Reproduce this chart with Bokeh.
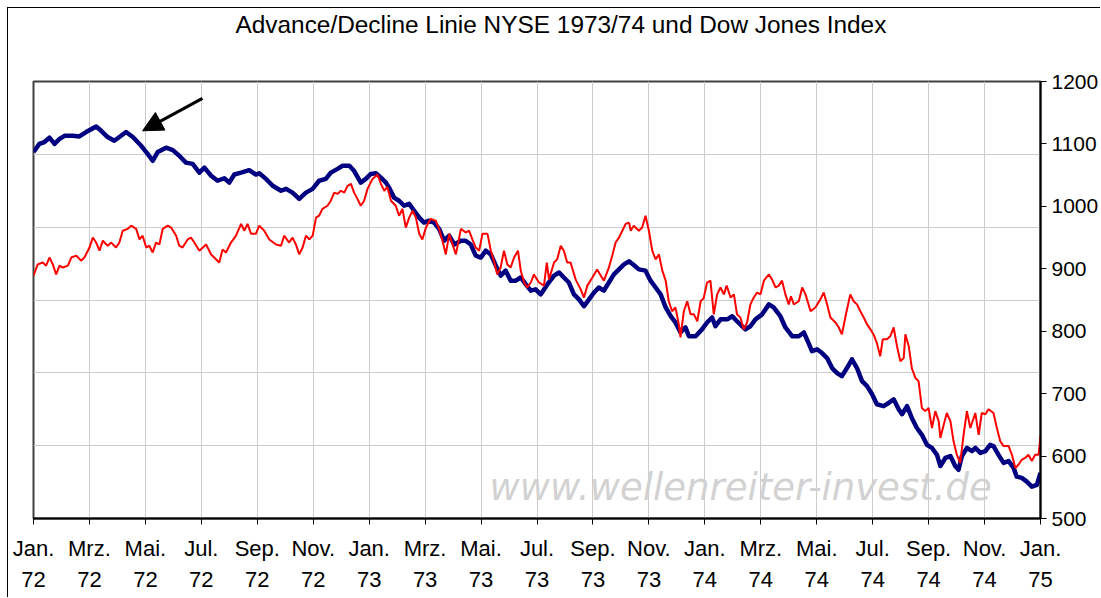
from bokeh.plotting import figure
from bokeh.models import Range1d, LinearAxis, FixedTicker, Arrow, NormalHead, Label, Title
from bokeh.embed import file_html
from bokeh.resources import INLINE

# ---- data (months since Jan 1972) ----
t_ad = [0.00, 0.21, 0.39, 0.57, 0.75, 0.93, 1.11, 1.40, 1.64, 1.88, 2.24, 2.42, 2.65, 2.89, 3.13, 3.31, 3.55,
        3.85, 4.08, 4.26, 4.44, 4.74, 4.98, 5.21, 5.45, 5.69, 5.93, 6.11, 6.35, 6.58, 6.82, 7.00, 7.18, 7.42,
        7.71, 7.95, 8.07, 8.31, 8.55, 8.85, 9.03, 9.26, 9.50, 9.74, 9.98, 10.21, 10.45, 10.63, 10.87, 11.05,
        11.29, 11.46, 11.70, 11.88, 12.06, 12.24, 12.42, 12.60, 12.71, 12.89, 13.07, 13.25, 13.43, 13.61,
        13.79, 13.96, 14.14, 14.32, 14.50, 14.68, 14.86, 15.04, 15.28, 15.45, 15.63, 15.81, 15.99, 16.17,
        16.35, 16.53, 16.70, 16.88, 17.06, 17.24, 17.42, 17.60, 17.78, 17.95, 18.13, 18.37, 18.61, 18.79,
        18.96, 19.14, 19.32, 19.50, 19.68, 19.86, 20.04, 20.21, 20.39, 20.57, 20.75, 20.93, 21.11, 21.29,
        21.46, 21.64, 21.88, 22.06, 22.24, 22.42, 22.60, 22.78, 22.95, 23.13, 23.31, 23.43, 23.67, 23.90,
        24.08, 24.26, 24.38, 24.56, 24.80, 24.98, 25.15, 25.33, 25.45, 25.63, 25.81, 26.05, 26.29, 26.46,
        26.70, 26.88, 27.12, 27.36, 27.54, 27.71, 27.83, 28.01, 28.19, 28.37, 28.55, 28.73, 28.90, 29.08,
        29.26, 29.44, 29.62, 29.80, 29.98, 30.15, 30.39, 30.57, 30.75, 30.93, 31.05, 31.23, 31.40, 31.58,
        31.76, 31.94, 32.12, 32.30, 32.42, 32.60, 32.78, 32.95, 33.07, 33.19, 33.37, 33.55, 33.67, 33.85,
        34.03, 34.20, 34.32, 34.50, 34.68, 34.86, 35.04, 35.15, 35.33, 35.51, 35.69, 35.87, 36.00]
ad_line = [1087, 1100, 1103, 1110, 1100, 1108, 1113, 1113, 1112, 1119, 1128, 1121, 1111, 1105, 1113, 1119, 1111,
           1097, 1084, 1073, 1087, 1094, 1090, 1081, 1070, 1068, 1054, 1062, 1049, 1041, 1045, 1038, 1051, 1054,
           1058, 1051, 1053, 1044, 1033, 1025, 1028, 1022, 1012, 1022, 1028, 1041, 1044, 1054, 1060, 1065,
           1065, 1057, 1038, 1044, 1052, 1053, 1046, 1038, 1030, 1014, 1009, 1001, 1004, 993,
           982, 974, 977, 974, 964, 945, 953, 939, 945, 945, 939, 921, 918, 929,
           923, 905, 889, 897, 881, 881, 886, 875, 865, 867, 859, 875, 889, 894,
           886, 878, 859, 851, 840, 851, 862, 870, 865, 878, 891, 899, 907, 912,
           906, 899, 897, 881, 870, 859, 838, 824, 814, 798, 806, 792, 792, 803,
           814, 822, 808, 819, 819, 824, 816, 808, 803, 808, 819, 827, 843, 838,
           824, 806, 792, 792, 798, 781, 768, 771, 765, 757, 741, 733, 728, 741,
           755, 741, 720, 712, 699, 683, 680, 685, 691, 675, 667, 680, 661, 645,
           634, 618, 613, 602, 584, 597, 600, 584, 578, 600, 613, 608, 613, 605,
           608, 618, 616, 602, 589, 592, 581, 567, 565, 559, 551, 554, 573]

t_dj = [0.00, 0.15, 0.33, 0.45, 0.57, 0.69, 0.81, 0.93, 1.05, 1.23, 1.35, 1.53, 1.70, 1.82, 2.00, 2.12, 2.24,
        2.36, 2.48, 2.65, 2.78, 2.95, 3.07, 3.19, 3.37, 3.49, 3.67, 3.79, 3.90, 4.03, 4.14, 4.26, 4.38, 4.50,
        4.62, 4.80, 4.92, 5.10, 5.21, 5.33, 5.51, 5.63, 5.75, 5.93, 6.17, 6.35, 6.46, 6.64, 6.76, 6.88, 7.06,
        7.24, 7.42, 7.54, 7.65, 7.78, 7.95, 8.07, 8.25, 8.43, 8.67, 8.85, 8.96, 9.14, 9.26, 9.38, 9.50, 9.62,
        9.74, 9.86, 9.98, 10.10, 10.21, 10.33, 10.51, 10.63, 10.75, 10.87, 10.99, 11.11, 11.23, 11.35, 11.46,
        11.58, 11.70, 11.82, 11.94, 12.12, 12.30, 12.42, 12.54, 12.65, 12.78, 12.95, 13.07, 13.19, 13.31,
        13.43, 13.55, 13.67, 13.79, 13.90, 14.03, 14.20, 14.38, 14.50, 14.62, 14.74, 14.86, 14.98, 15.10,
        15.28, 15.45, 15.57, 15.69, 15.81, 15.93, 16.05, 16.23, 16.35, 16.46, 16.58, 16.70, 16.82, 16.94,
        17.06, 17.18, 17.32, 17.42, 17.54, 17.65, 17.78, 17.89, 18.07, 18.25, 18.35, 18.43, 18.61, 18.72,
        18.85, 18.96, 19.08, 19.20, 19.38, 19.56, 19.68, 19.80, 19.98, 20.15, 20.39, 20.57, 20.69, 20.81,
        20.93, 21.05, 21.17, 21.29, 21.35, 21.46, 21.64, 21.76, 21.88, 22.00, 22.12, 22.24, 22.36, 22.48,
        22.60, 22.71, 22.83, 22.95, 23.07, 23.13, 23.25, 23.37, 23.49, 23.61, 23.73, 23.85, 23.96, 24.08,
        24.20, 24.32, 24.44, 24.56, 24.68, 24.78, 24.92, 25.04, 25.15, 25.27, 25.39, 25.51, 25.63, 25.75,
        25.87, 25.99, 26.11, 26.29, 26.40, 26.53, 26.64, 26.76, 26.88, 27.00, 27.08, 27.18, 27.36, 27.48,
        27.60, 27.78, 27.95, 28.13, 28.25, 28.37, 28.49, 28.67, 28.79, 28.90, 29.03, 29.20, 29.32, 29.44,
        29.56, 29.68, 29.80, 29.92, 30.04, 30.15, 30.27, 30.36, 30.51, 30.63, 30.75, 30.87, 30.99, 31.11,
        31.17, 31.29, 31.40, 31.53, 31.64, 31.70, 31.76, 31.88, 32.00, 32.12, 32.24, 32.36, 32.42, 32.54,
        32.65, 32.78, 32.89, 33.01, 33.13, 33.25, 33.37, 33.49, 33.67, 33.79, 33.90, 34.03, 34.14, 34.32,
        34.44, 34.56, 34.68, 34.86, 34.98, 35.10, 35.21, 35.33, 35.45, 35.57, 35.69, 35.81, 35.93, 36.00]
dow_jones = [889, 907, 910, 905, 918, 907, 891, 905, 902, 905, 918, 921, 913, 918, 934, 950, 942,
             929, 945, 937, 942, 934, 942, 961, 964, 969, 964, 947, 953, 934, 937, 926, 942, 939,
             964, 969, 966, 953, 937, 934, 947, 950, 942, 929, 939, 923, 918, 910, 931, 926, 942,
             953, 972, 961, 972, 956, 956, 969, 961, 947, 939, 937, 953, 942, 950, 939, 923, 934,
             953, 947, 953, 982, 985, 996, 1001, 1009, 1022, 1020, 1025, 1022, 1033, 1036, 1022,
             1012, 1001, 1009, 1028, 1044, 1051, 1036, 1025, 1031, 1009, 1001, 985, 996, 966,
             982, 993, 982, 956, 947, 966, 980, 977, 964, 945, 923, 956, 939, 923,
             964, 958, 961, 947, 934, 929, 956, 956, 929, 913, 891, 902, 929, 907,
             902, 918, 929, 897, 878, 870, 878, 891, 878, 873, 910, 883, 910, 915,
             937, 929, 910, 910, 883, 867, 854, 873, 886, 899, 881, 902, 921, 942,
             950, 961, 972, 974, 961, 969, 961, 966, 985, 961, 929, 915, 923, 897,
             881, 848, 832, 838, 811, 790, 832, 848, 827, 827, 816, 848, 853, 878,
             881, 827, 859, 870, 859, 873, 854, 859, 827, 822, 803, 814, 843, 854,
             862, 859, 881, 891, 883, 870, 873, 881, 859, 843, 856, 843, 848, 870,
             859, 832, 838, 851, 862, 843, 822, 814, 806, 795, 824, 859, 848, 843,
             832, 822, 811, 803, 794, 781, 760, 787, 787, 792, 806, 776, 752, 757,
             795, 776, 741, 725, 720, 699, 677, 672, 677, 645, 672, 656, 629, 650,
             669, 656, 624, 602, 589, 634, 672, 645, 669, 634, 669, 667, 675, 669,
             645, 624, 616, 616, 602, 581, 586, 594, 597, 602, 592, 602, 602, 632]

tick_pos = list(range(0, 37, 2))
tick_months = ["Jan.", "Mrz.", "Mai.", "Jul.", "Sep.", "Nov."] * 3 + ["Jan."]
tick_years = ["72"] * 6 + ["73"] * 6 + ["74"] * 6 + ["75"]
y_ticks = [500, 600, 700, 800, 900, 1000, 1100, 1200]

title_text = "Advance/Decline Linie NYSE 1973/74 und Dow Jones Index"
watermark = "www.wellenreiter-invest.de"

FONT = "Liberation Sans"

p = figure(width=1093, height=590, output_backend="svg", toolbar_location=None,
           x_range=Range1d(0, 36), y_range=Range1d(500, 1200),
           y_axis_location="right", title_location=None,
           min_border_left=25, min_border_top=73,
           min_border_bottom=80, min_border_right=5,
           background_fill_color="white", border_fill_color="white",
           styles={"margin-left": "7px", "margin-top": "7px",
                   "border-left": "1px solid #000000", "border-top": "1px solid #000000"})

p.outline_line_color = "#404040"
p.outline_line_width = 2

# title: a blank spacer next to the frame, then the real title above it
spacer = Title(text=" ", text_font=FONT, text_font_size="10px", standoff=31)
p.add_layout(spacer, "above")
main_title = Title(text=title_text, text_font=FONT, text_font_size="24.4px",
                   text_font_style="normal", text_color="black",
                   align="left", offset=202, standoff=0)
p.add_layout(main_title, "above")

# grids
p.xgrid.ticker = FixedTicker(ticks=tick_pos)
p.ygrid.ticker = FixedTicker(ticks=[500 + k * 700 / 6 for k in range(7)])
p.xgrid.grid_line_color = "#cccccc"
p.ygrid.grid_line_color = "#cccccc"
p.xgrid.grid_line_width = 1
p.ygrid.grid_line_width = 1

# bottom axis (months)
xa = p.xaxis[0]
xa.ticker = FixedTicker(ticks=tick_pos)
xa.major_label_overrides = {t: m for t, m in zip(tick_pos, tick_months)}
xa.axis_line_color = "black"
xa.axis_line_width = 2
xa.major_tick_line_color = "black"
xa.major_tick_out = 6
xa.major_tick_in = 0
xa.minor_tick_line_color = None
xa.major_label_text_font = FONT
xa.major_label_text_font_size = "22px"
xa.major_label_text_color = "black"
xa.major_label_standoff = 11

# second row (years)
ya2 = LinearAxis(ticker=FixedTicker(ticks=tick_pos),
                 major_label_overrides={t: y for t, y in zip(tick_pos, tick_years)},
                 axis_line_color=None, major_tick_line_color=None, minor_tick_line_color=None,
                 major_label_text_font=FONT, major_label_text_font_size="22px",
                 major_label_text_color="black", major_label_standoff=2)
p.add_layout(ya2, "below")

# right axis
ra = p.yaxis[0]
ra.ticker = FixedTicker(ticks=y_ticks)
ra.axis_line_color = "black"
ra.axis_line_width = 2
ra.major_tick_line_color = "black"
ra.major_tick_out = 6
ra.major_tick_in = 0
ra.minor_tick_line_color = None
ra.major_label_text_font = FONT
ra.major_label_text_font_size = "21px"
ra.major_label_text_color = "black"
ra.major_label_standoff = 5

# watermark
wm = Label(x=16.3, y=516, text=watermark, text_font="DejaVu Sans", text_font_size="37px",
           text_font_style="italic", text_color="#d2d2d2", level="underlay")
p.add_layout(wm)

# series
p.line(t_ad, ad_line, line_color="#000080", line_width=4.5, line_join="round")
p.line(t_dj, dow_jones, line_color="#ff0000", line_width=2)

# arrow
p.add_layout(Arrow(end=NormalHead(size=20, fill_color="black", line_color="black"),
                   x_start=6.04, y_start=1173, x_end=3.9, y_end=1121,
                   line_color="black", line_width=3))

open("out.html", "w").write(file_html(p, INLINE))
